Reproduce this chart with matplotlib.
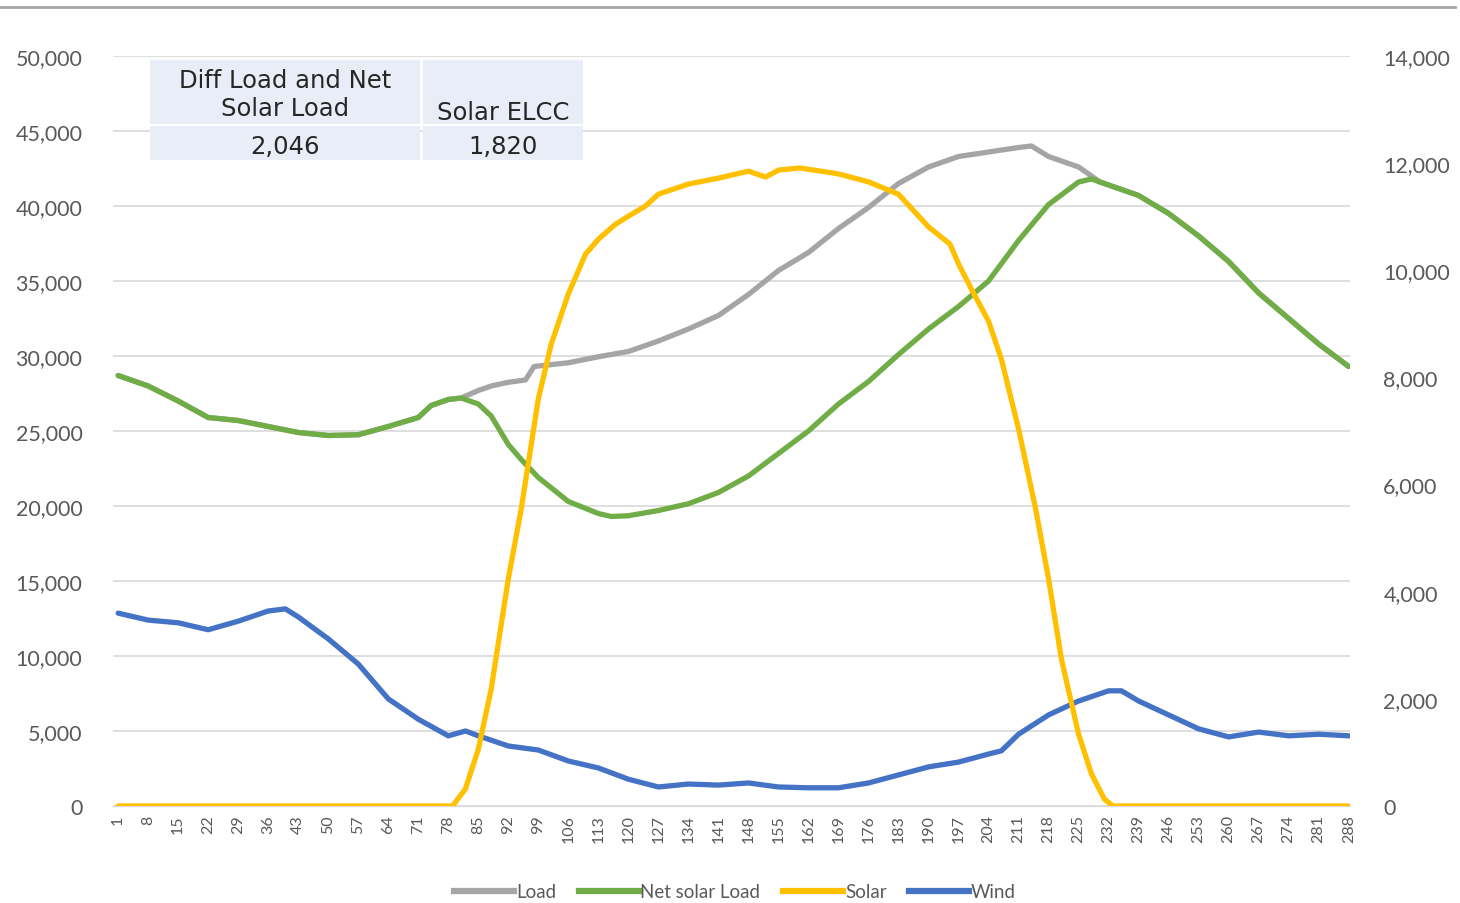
import matplotlib
matplotlib.use('Agg')
import matplotlib.pyplot as plt
from matplotlib.lines import Line2D
from matplotlib.patches import Rectangle
from matplotlib.ticker import FuncFormatter

plt.rcParams['font.family'] = ['Lato', 'DejaVu Sans']

# values (index = 5-minute interval)
net_x = [1, 8, 15, 22, 29, 36, 43, 50, 57, 64, 71, 74, 78, 81, 85, 88, 92, 95, 99,
         106, 113, 116, 120, 127, 134, 141, 148, 155, 162, 169, 176, 183, 190, 197,
         204, 211, 218, 225, 228, 232, 239, 246, 253, 260, 267, 274, 281, 288]
net_load = [28700, 28000, 27000, 25900, 25700, 25300, 24900, 24700, 24750, 25300,
            25900, 26700, 27100, 27200, 26800, 26000, 24100, 23100, 21900,
            20300, 19500, 19300, 19350, 19700, 20150, 20900, 22000, 23500, 25000,
            26800, 28300, 30100, 31800, 33300, 35000, 37700, 40100, 41600, 41800,
            41400, 40700, 39500, 38000, 36300, 34200, 32500, 30800, 29300]

load_x = [1, 8, 15, 22, 29, 36, 43, 50, 57, 64, 71, 74, 78, 81, 85, 88, 92, 96, 98,
          106, 113, 120, 127, 134, 141, 148, 155, 162, 169, 176, 183, 190, 197, 204,
          211, 214, 218, 225, 230, 232, 239, 246, 253, 260, 267, 274, 281, 288]
load = [28700, 28000, 27000, 25900, 25700, 25300, 24900, 24700, 24750, 25300,
        25900, 26700, 27100, 27200, 27700, 28000, 28250, 28400, 29300,
        29550, 29950, 30300, 31000, 31800, 32700, 34100, 35700, 36900, 38500,
        39900, 41500, 42600, 43300, 43600, 43900, 44000, 43300, 42600, 41600,
        41400, 40700, 39500, 38000, 36300, 34200, 32500, 30800, 29300]

solar_x = [1, 79, 82, 85, 88, 92, 95, 99, 102, 106, 110, 113, 117, 120, 124, 127,
           134, 141, 148, 152, 155, 160, 169, 176, 183, 190, 195, 197, 200, 204, 207,
           211, 215, 218, 221, 225, 228, 231, 233, 288]
solar = [0, 0, 320, 1060, 2180, 4240, 5540, 7600, 8620, 9560, 10300, 10580, 10860,
         11010, 11200, 11420, 11610, 11720, 11850, 11740, 11870, 11910, 11800, 11650,
         11420, 10810, 10490, 10120, 9650, 9050, 8340, 7040, 5540, 4240, 2740, 1340,
         600, 130, 0, 0]

wind_x = [1, 8, 15, 22, 29, 36, 40, 43, 50, 57, 64, 71, 78, 82, 85, 92, 99, 106,
          113, 120, 127, 134, 141, 148, 155, 162, 169, 176, 183, 190, 197, 204, 207,
          211, 218, 225, 232, 235, 239, 246, 253, 260, 267, 274, 281, 288]
wind = [3600, 3470, 3420, 3290, 3450, 3640, 3680, 3530, 3120, 2650, 2000, 1620,
        1310, 1400, 1310, 1120, 1045, 840, 710, 500, 355, 410, 390, 430, 355, 340,
        340, 430, 580, 730, 820, 970, 1030, 1340, 1700, 1960, 2150, 2150, 1960, 1700,
        1440, 1290, 1380, 1310, 1340, 1310]

x_ticks = list(range(1, 289, 7))
diff_value = '2,046'
elcc_value = '1,820'

txt = '#595959'
fig = plt.figure(figsize=(14.6, 9.04), dpi=100)
ax = fig.add_axes([113 / 1460, 1 - 807 / 904, (1350 - 113) / 1460, 750 / 904])
ax2 = ax.twinx()

lw = 3.8
ax.plot(load_x, load, color='#A5A5A5', lw=lw, solid_capstyle='round', solid_joinstyle='round')
ax.plot(net_x, net_load, color='#70AD47', lw=lw, solid_capstyle='round', solid_joinstyle='round')
ax2.plot(wind_x, wind, color='#4472C4', lw=lw, solid_capstyle='round', solid_joinstyle='round')
ax2.plot(solar_x, solar, color='#FFC000', lw=lw, solid_capstyle='round', solid_joinstyle='round')

ax.set_xlim(-0.2, 288.3)
ax.set_ylim(0, 50000)
ax2.set_ylim(0, 14000)
ax.set_yticks(range(0, 50001, 5000))
ax2.set_yticks(range(0, 14001, 2000))
fmt = FuncFormatter(lambda v, p: f'{int(v):,}')
ax.yaxis.set_major_formatter(fmt)
ax2.yaxis.set_major_formatter(fmt)
ax.set_xticks(x_ticks)
ax.set_xticklabels([str(t) for t in x_ticks], rotation=90, fontsize=11.5, color=txt)

ax.grid(axis='y', color='#D9D9D9', lw=1.2)
ax.set_axisbelow(True)
for a in (ax, ax2):
    for s in a.spines.values():
        s.set_visible(False)
ax.spines['bottom'].set_visible(True)
ax.spines['bottom'].set_color('#D9D9D9')
ax.tick_params(axis='y', length=0, pad=22, labelsize=15.5, labelcolor=txt)
ax.tick_params(axis='x', length=0, pad=6)
ax2.tick_params(axis='y', length=0, pad=24, labelsize=15.5, labelcolor=txt)

# summary table in the top-left corner
cell = '#E9EDF7'
cells = [(150, 61, 270, 64), (423, 61, 160, 64), (150, 127, 270, 34), (423, 127, 160, 34)]
for cx, cy, cw, ch in cells:
    fig.patches.append(Rectangle((cx / 1460, 1 - (cy + ch) / 904), cw / 1460, ch / 904,
                                 transform=fig.transFigure, facecolor=cell,
                                 edgecolor='none', zorder=5))
tk = dict(ha='center', fontsize=17.5, color='#262626', zorder=6,
          family=['DejaVu Sans'])
fig.text(285 / 1460, 1 - 95 / 904, 'Diff Load and Net\nSolar Load', va='center',
         linespacing=1.25, **tk)
fig.text(503 / 1460, 1 - 113 / 904, 'Solar ELCC', va='center', **tk)
fig.text(285 / 1460, 1 - 147 / 904, diff_value, va='center', **tk)
fig.text(503 / 1460, 1 - 147 / 904, elcc_value, va='center', **tk)

# top border
fig.add_artist(Line2D([0, 1455 / 1460], [1 - 8 / 904, 1 - 8 / 904],
                      transform=fig.transFigure, color='#A6A6A6', lw=2))

handles = [Line2D([], [], color=c, lw=4.5) for c in ('#A5A5A5', '#70AD47', '#FFC000', '#4472C4')]
fig.legend(handles, ['Load', 'Net solar Load', 'Solar', 'Wind'], loc='center',
           bbox_to_anchor=(735 / 1460, 1 - 893 / 904), ncol=4, frameon=False,
           fontsize=13.5, labelcolor=txt, handlelength=3.2, handletextpad=0.1,
           columnspacing=1.2)

fig.savefig('out.png', dpi=100)
